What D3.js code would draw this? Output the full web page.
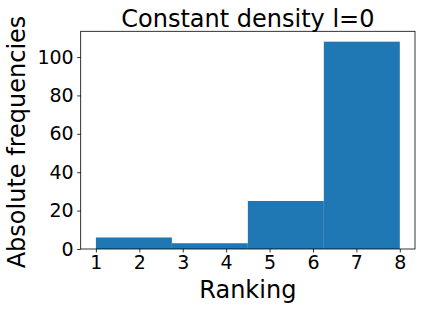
<!DOCTYPE html>
<html>
<head>
<meta charset="utf-8">
<script src="https://cdn.jsdelivr.net/npm/d3@7"></script>
<style>
  body { margin: 0; background: #fff; }
  text { font-family: "DejaVu Sans", sans-serif; fill: #000; }
</style>
</head>
<body>
<svg id="chart" width="422" height="310"></svg>
<script>
// histogram bins (edges) and counts
var binEdges = [1, 2.75, 4.5, 6.25, 8];
var counts = [6, 3, 25, 108];
var xTicks = [1, 2, 3, 4, 5, 6, 7, 8];
var yTicks = [0, 20, 40, 60, 80, 100];

var svg = d3.select("#chart");
var m = {left: 80.7, right: 415, top: 31.3, bottom: 249};

var x = d3.scaleLinear()
    .domain([0.65, 8.35])
    .range([m.left, m.right]);
var y = d3.scaleLinear()
    .domain([0, 108 * 1.05])
    .range([m.bottom, m.top]);

var bins = counts.map(function(c, i) {
    return {x0: binEdges[i], x1: binEdges[i + 1], n: c};
});

svg.append("g").selectAll("rect")
    .data(bins)
    .enter()
    .append("rect")
    .attr("x", function(d) { return x(d.x0); })
    .attr("width", function(d) { return x(d.x1) - x(d.x0); })
    .attr("y", function(d) { return y(d.n); })
    .attr("height", function(d) { return y(0) - y(d.n); })
    .attr("fill", "#1f77b4");

// axes
var xAxis = svg.append("g")
    .attr("transform", "translate(0," + m.bottom + ")")
    .call(d3.axisBottom(x).tickValues(xTicks).tickSize(3.5).tickPadding(3.5));
var yAxis = svg.append("g")
    .attr("transform", "translate(" + m.left + ",0)")
    .call(d3.axisLeft(y).tickValues(yTicks).tickSize(3.5).tickPadding(3.5));

[xAxis, yAxis].forEach(function(a) {
    a.select(".domain").remove();
    a.selectAll("line").attr("stroke", "#000").attr("stroke-width", 0.8);
    a.selectAll("text").style("font-size", "19px").attr("fill", "#000");
});

// frame
svg.append("rect")
    .attr("x", m.left).attr("y", m.top)
    .attr("width", m.right - m.left).attr("height", m.bottom - m.top)
    .attr("fill", "none").attr("stroke", "#000").attr("stroke-width", 0.8);

// title & labels
svg.append("text")
    .attr("x", (m.left + m.right) / 2).attr("y", 26.5)
    .attr("text-anchor", "middle").style("font-size", "24px")
    .text("Constant density l=0");
svg.append("text")
    .attr("x", (m.left + m.right) / 2).attr("y", 298)
    .attr("text-anchor", "middle").style("font-size", "24px")
    .text("Ranking");
svg.append("text")
    .attr("transform", "translate(25,142) rotate(-90)")
    .attr("text-anchor", "middle").style("font-size", "24px")
    .text("Absolute frequencies");
</script>
</body>
</html>
